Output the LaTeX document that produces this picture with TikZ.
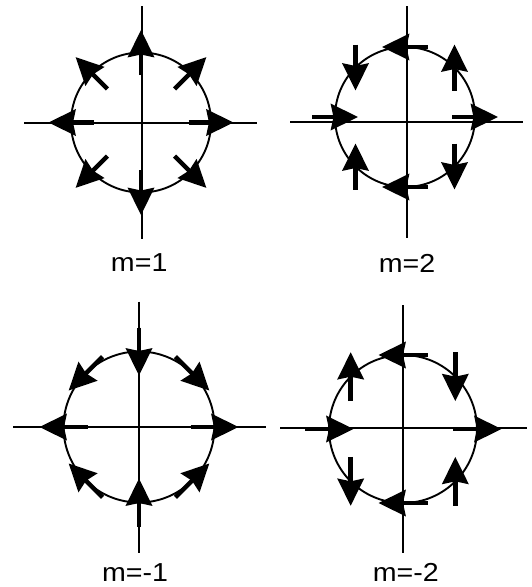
\documentclass[tikz,border=0pt]{standalone}
\usepackage{fontspec}
\setmainfont{Liberation Sans}[FakeStretch=1.1]
\usetikzlibrary{arrows.meta,calc}
\begin{document}
\begin{tikzpicture}[x=1pt,y=-1pt,
  axis/.style={line width=2pt},
  ring/.style={line width=1.9pt},
  vec/.style={line width=4.5pt,-{Stealth[length=27pt,width=26pt,inset=2.5pt]}},
  lab/.style={font=\fontsize{26}{30}\selectfont, anchor=base, inner sep=0pt, text depth=0pt}]
\useasboundingbox (0,0) rectangle (532,587);
% panel m=1
\coordinate (c1) at (141,122.5);
\draw[ring] (c1) circle[radius=70];
\draw[axis] (24,122.5) -- (257,122.5);
\draw[axis] (141.5,6) -- (141.5,239);
\foreach \p in {0,45,...,315}{
  \pgfmathsetmacro\th{1*\p}
  \draw[vec] ($(c1)+(-\p:70)+(180-\th:22.5)$) -- ($(c1)+(-\p:70)+(-\th:22.5)$);
}
\node[lab] (l1) at (139.2,271.7) {m=1};
% panel m=2
\coordinate (c2) at (405,117);
\draw[ring] (c2) circle[radius=70];
\draw[axis] (290,122) -- (522.7,122);
\draw[axis] (406.7,6) -- (406.7,238);
\foreach \p in {0,45,...,315}{
  \pgfmathsetmacro\th{2*\p}
  \draw[vec] ($(c2)+(-\p:70)+(180-\th:23)$) -- ($(c2)+(-\p:70)+(-\th:23)$);
}
\node[lab] (l2) at (407,272.3) {m=2};
% panel m=-1
\coordinate (c3) at (139,427);
\draw[ring] (c3) circle[radius=75.5];
\draw[axis] (13.3,426.7) -- (265.7,426.7);
\draw[axis] (139.3,301.7) -- (139.3,553.3);
\foreach \p in {0,45,...,315}{
  \pgfmathsetmacro\th{-1*\p}
  \draw[vec] ($(c3)+(-\p:75.5)+(180-\th:24)$) -- ($(c3)+(-\p:75.5)+(-\th:24)$);
}
\node[lab] (l3) at (135,581.5) {m=-1};
% panel m=-2
\coordinate (c4) at (403,429);
\draw[ring] (c4) circle[radius=74];
\draw[axis] (280,428.3) -- (526.7,428.3);
\draw[axis] (402.7,305) -- (402.7,552.7);
\foreach \p in {0,45,...,315}{
  \pgfmathsetmacro\th{-2*\p}
  \draw[vec] ($(c4)+(-\p:74)+(180-\th:24.5)$) -- ($(c4)+(-\p:74)+(-\th:24.5)$);
}
\node[lab] (l4) at (405.8,581.5) {m=-2};
\end{tikzpicture}
\end{document}
